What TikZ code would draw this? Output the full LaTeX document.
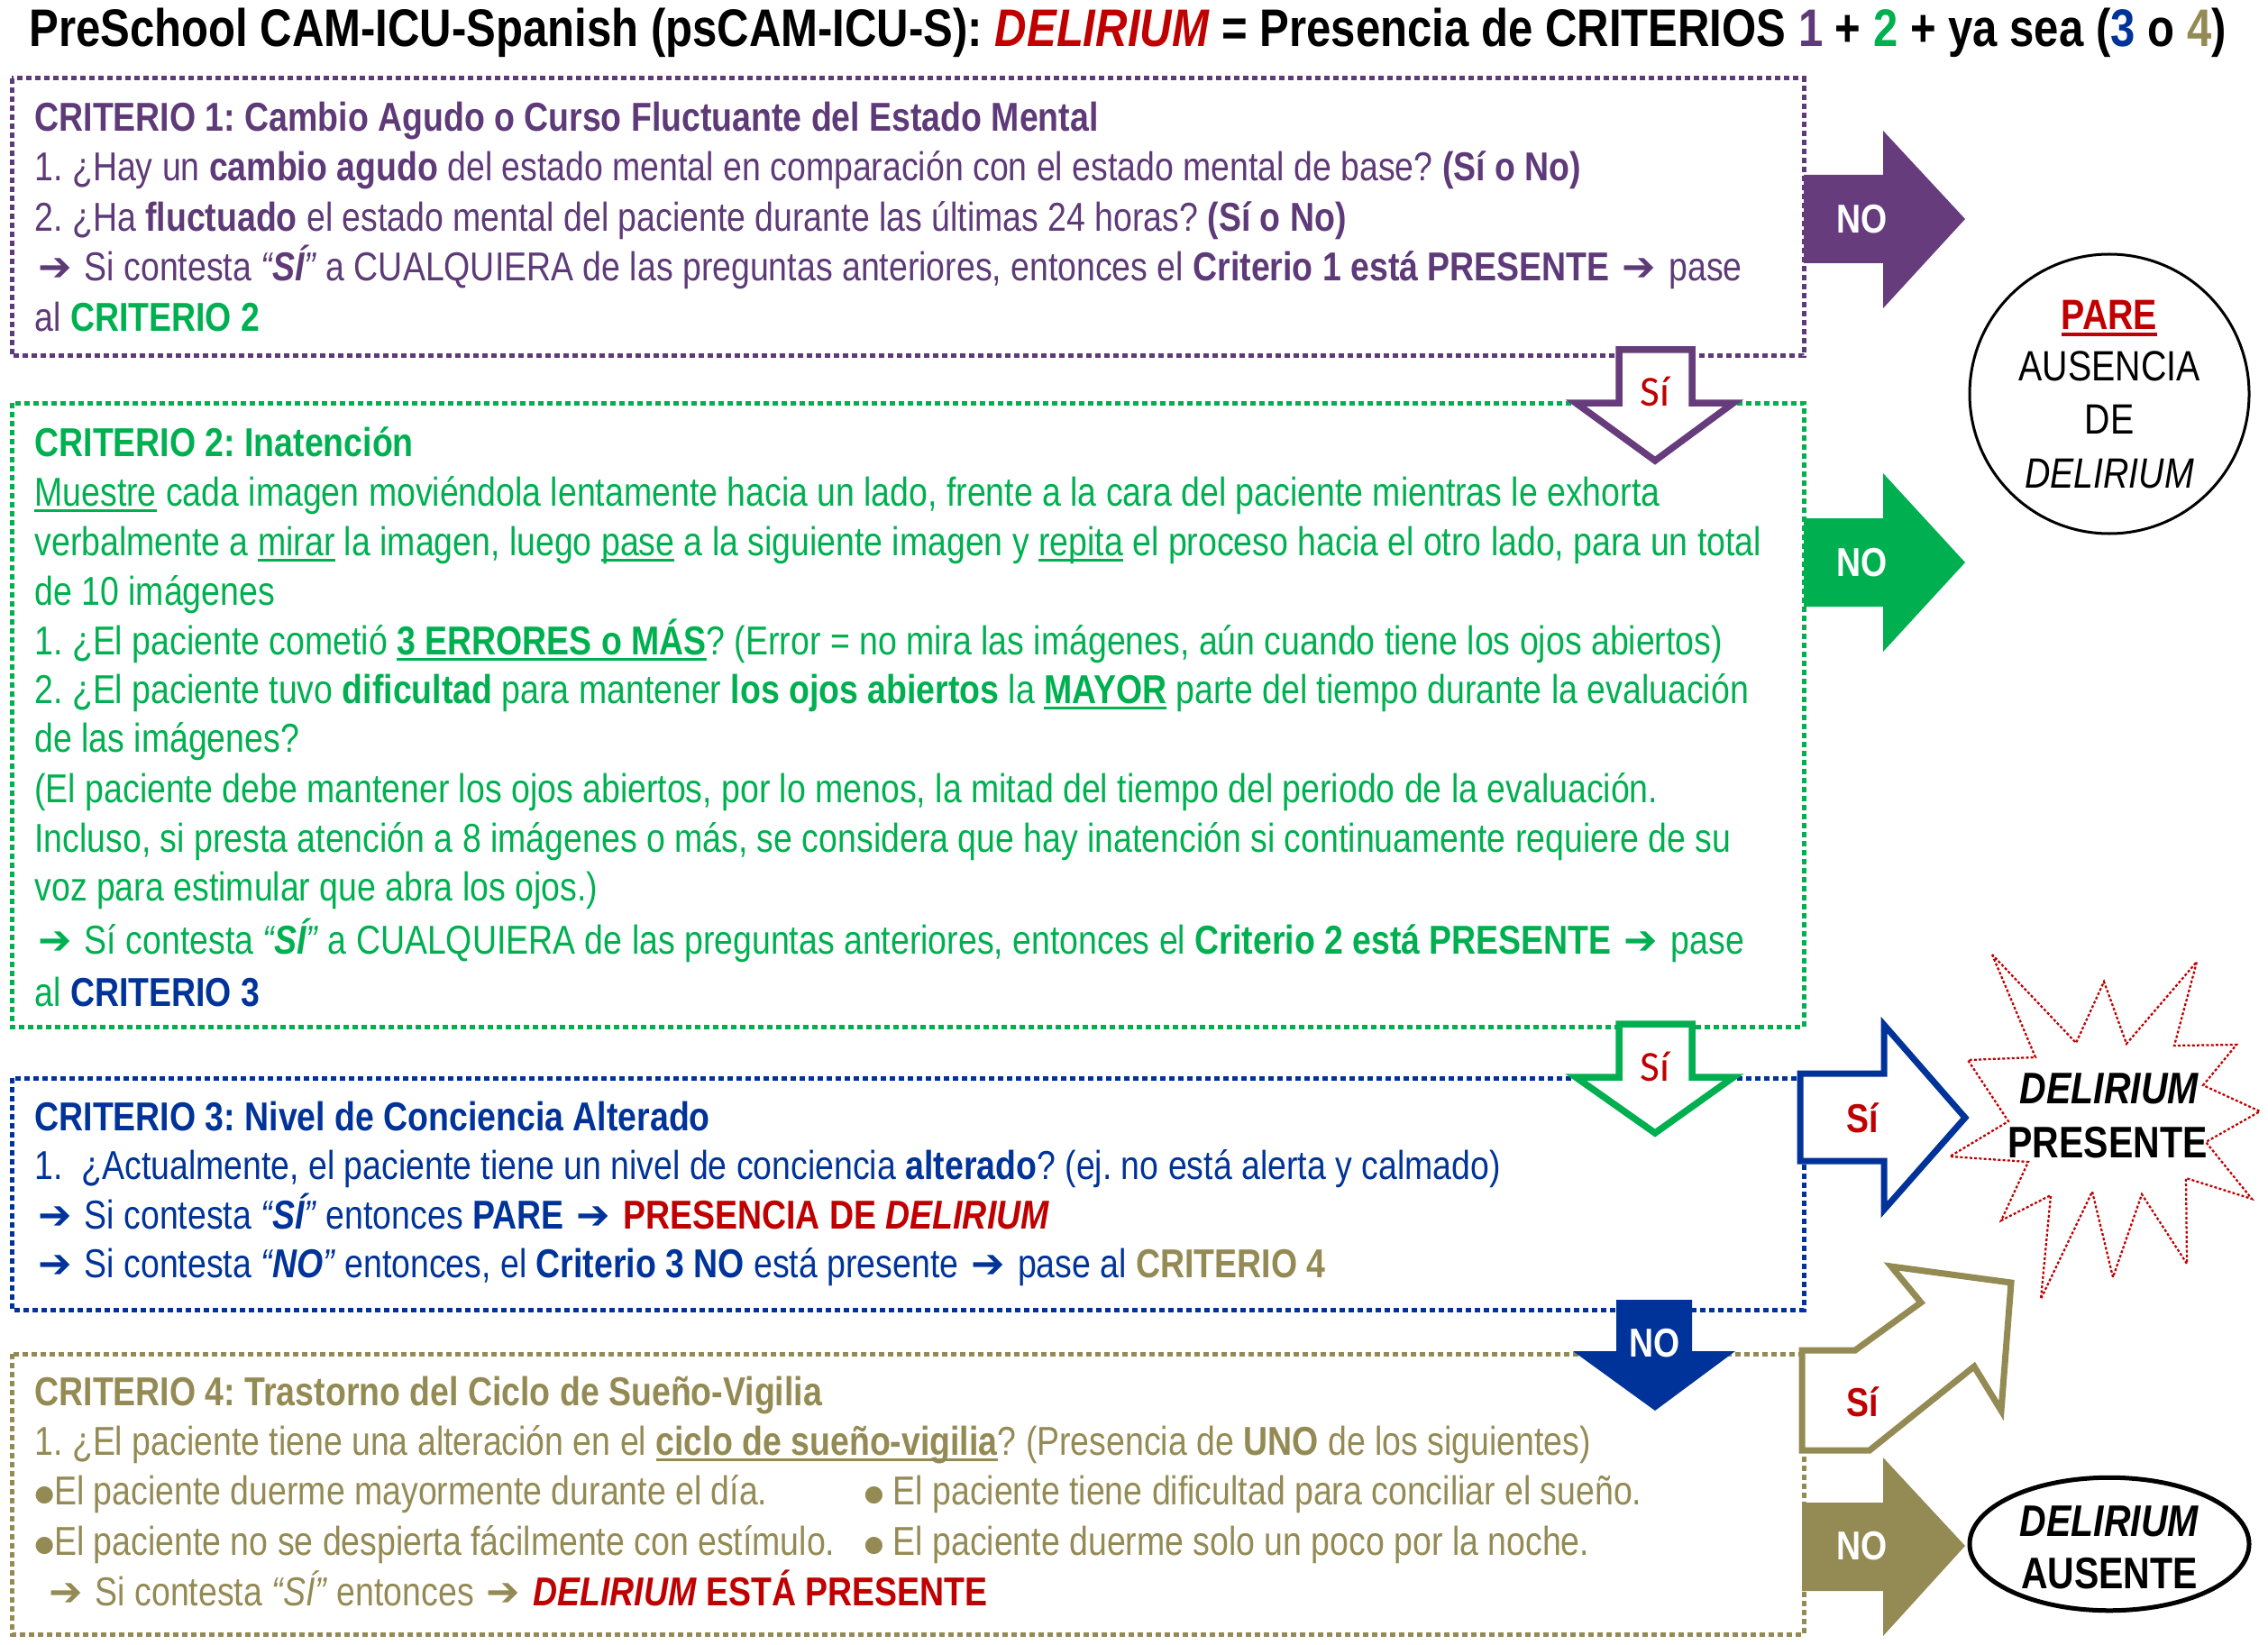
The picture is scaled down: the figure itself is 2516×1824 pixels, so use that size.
\documentclass[tikz,border=0pt]{standalone}
\usepackage{fontspec}
\setmainfont[FakeStretch=0.837]{Liberation Sans}
\newfontfamily\symfont{DejaVu Sans}
\newfontfamily\sifont{Carlito}
\usetikzlibrary{shapes.geometric}
\definecolor{colP}{HTML}{5E3A78}
\definecolor{colPA}{HTML}{663C7C}
\definecolor{colG}{HTML}{00B050}
\definecolor{colB}{HTML}{003399}
\definecolor{colO}{HTML}{948A54}
\definecolor{colR}{HTML}{C00000}
\newcommand\bodyf{\fontsize{17.9pt}{21pt}\selectfont}
\newcommand\titlef{\fontsize{23.45pt}{28pt}\selectfont}
\newcommand\bigf{\fontsize{19.6pt}{24pt}\selectfont}
\newcommand\circf{\fontsize{18.8pt}{22pt}\selectfont}
\newcommand\arr{\hspace{1.4pt}{\symfont\symbol{"2794}}\hspace{1.6pt}}
\newcommand\bul{\raisebox{1.6pt}{\symfont\fontsize{10pt}{10pt}\selectfont\symbol{"25CF}}}
\newcommand\myul[1]{\leavevmode\setbox0\hbox{#1}\rlap{\rule[-2.8pt]{\wd0}{1.4pt}}\box0\relax}
\newcommand\tline[3]{\node[txt] (#1) at (38,#2) {#3};}
\frenchspacing
\begin{document}
\begin{tikzpicture}[x=0.4pt,y=-0.4pt,
  boxl/.style={line width=2pt, dash pattern=on 2.4pt off 1.6pt},
  txt/.style={anchor=base west, inner sep=0pt, font=\bodyf\frenchspacing},
  ctr/.style={anchor=base, inner sep=0pt},
  notxt/.style={text=white, font=\bodyf\bfseries, inner sep=0pt},
  sitxt/.style={text=colR, font=\sifont\fontsize{19pt}{22pt}\selectfont, inner sep=0pt},
  sibold/.style={text=colR, font=\bodyf\bfseries, inner sep=0pt}]
\useasboundingbox (0,0) rectangle (2516,1824);

% title
\node[anchor=base west, inner sep=0pt, font=\titlef\bfseries\frenchspacing] (title) at (32,52)
 {PreSchool CAM-ICU-Spanish (psCAM-ICU-S): \textcolor{colR}{\textit{DELIRIUM}} = Presencia de CRITERIOS \textcolor{colP}{1} + \textcolor{colG}{2} + ya sea (\textcolor{colB}{3} o \textcolor{colO}{4})};

% boxes
\draw[boxl, colP] (13,87) rectangle (2001,395);
\draw[boxl, colG] (13,447) rectangle (2001,1139);
\draw[boxl, colB] (13,1196) rectangle (2001,1453);
\draw[boxl, colO] (13,1502) rectangle (2001,1813);

% criterio 1
\begin{scope}[every node/.append style={text=colP}]
\tline{c1h}{146}{\textbf{CRITERIO 1: Cambio Agudo o Curso Fluctuante del Estado Mental}}
\tline{c1a}{201}{1. ¿Hay un \textbf{cambio agudo} del estado mental en comparación con el estado mental de base? \textbf{(Sí o No)}}
\tline{c1b}{257}{2. ¿Ha \textbf{fluctuado} el estado mental del paciente durante las últimas 24 horas? \textbf{(Sí o No)}}
\tline{c1c}{312}{\arr\ Si contesta \textit{“\textbf{SÍ}”} a CUALQUIERA de las preguntas anteriores, entonces el \textbf{Criterio 1 está PRESENTE \arr} pase}
\tline{c1d}{368}{al \textcolor{colG}{\textbf{CRITERIO 2}}}
\end{scope}

% criterio 2
\begin{scope}[every node/.append style={text=colG}]
\tline{c2h}{506}{\textbf{CRITERIO 2: Inatención}}
\tline{c2a}{561}{\myul{Muestre} cada imagen moviéndola lentamente hacia un lado, frente a la cara del paciente mientras le exhorta}
\tline{c2b}{616}{verbalmente a \myul{mirar} la imagen, luego \myul{pase} a la siguiente imagen y \myul{repita} el proceso hacia el otro lado, para un total}
\tline{c2c}{671}{de 10 imágenes}
\tline{c2d}{726}{1. ¿El paciente cometió \myul{\textbf{3 ERRORES o MÁS}}? (Error = no mira las imágenes, aún cuando tiene los ojos abiertos)}
\tline{c2e}{780}{2. ¿El paciente tuvo \textbf{dificultad} para mantener \textbf{los ojos abiertos} la \myul{\textbf{MAYOR}} parte del tiempo durante la evaluación}
\tline{c2f}{834}{de las imágenes?}
\tline{c2g}{890}{(El paciente debe mantener los ojos abiertos, por lo menos, la mitad del tiempo del periodo de la evaluación.}
\tline{c2i}{945}{Incluso, si presta atención a 8 imágenes o más, se considera que hay inatención si continuamente requiere de su}
\tline{c2j}{999}{voz para estimular que abra los ojos.)}
\tline{c2k}{1058}{\arr\ Sí contesta \textit{“\textbf{SÍ}”} a CUALQUIERA de las preguntas anteriores, entonces el \textbf{Criterio 2 está PRESENTE \arr} pase}
\tline{c2l}{1116}{al \textcolor{colB}{\textbf{CRITERIO 3}}}
\end{scope}

% criterio 3
\begin{scope}[every node/.append style={text=colB}]
\tline{c3h}{1254}{\textbf{CRITERIO 3: Nivel de Conciencia Alterado}}
\tline{c3a}{1308}{1. \ ¿Actualmente, el paciente tiene un nivel de conciencia \textbf{alterado}? (ej. no está alerta y calmado)}
\tline{c3b}{1363}{\arr\ Si contesta \textit{“\textbf{SÍ}”} entonces \textbf{PARE \arr} \textcolor{colR}{\textbf{PRESENCIA DE \textit{DELIRIUM}}}}
\tline{c3c}{1417}{\arr\ Si contesta \textit{“\textbf{NO}”} entonces, el \textbf{Criterio 3 NO} está presente \arr\ pase al \textcolor{colO}{\textbf{CRITERIO 4}}}
\end{scope}

% criterio 4
\begin{scope}[every node/.append style={text=colO}]
\tline{c4h}{1559}{\textbf{CRITERIO 4: Trastorno del Ciclo de Sueño-Vigilia}}
\tline{c4a}{1614}{1. ¿El paciente tiene una alteración en el \myul{\textbf{ciclo de sueño-vigilia}}? (Presencia de \textbf{UNO} de los siguientes)}
\tline{c4b}{1669}{\bul El paciente duerme mayormente durante el día.}
\node[txt] (c4c) at (958,1669) {\bul\ El paciente tiene dificultad para conciliar el sueño.};
\tline{c4d}{1725}{\bul El paciente no se despierta fácilmente con estímulo.}
\node[txt] (c4e) at (958,1725) {\bul\ El paciente duerme solo un poco por la noche.};
\node[txt] (c4f) at (50,1781) {\arr\ Si contesta \textit{“SÍ”} entonces \arr\ \textcolor{colR}{\textbf{\textit{DELIRIUM} ESTÁ PRESENTE}}};
\end{scope}

% purple NO arrow
\fill[colPA] (2001,194) -- (2089,194) -- (2089,145) -- (2180,243) -- (2089,342) -- (2089,292) -- (2001,292) -- cycle;
\node[notxt] (no1) at (2066,243) {NO};
% green NO arrow
\fill[colG] (2001,575) -- (2089,575) -- (2089,525) -- (2180,624) -- (2089,723) -- (2089,673) -- (2001,673) -- cycle;
\node[notxt] (no2) at (2066,624) {NO};

% PARE circle
\node[circle, draw, line width=1.2pt, minimum size=124pt, inner sep=0pt] (pare) at (2340,437) {};
\node[ctr, font=\circf\bfseries, text=colR] (pare1) at (2340,366) {\myul{PARE}};
\node[ctr, font=\circf] (pare2) at (2340,423) {AUSENCIA};
\node[ctr, font=\circf] (pare3) at (2340,481) {DE};
\node[ctr, font=\circf\itshape] (pare4) at (2340,541) {DELIRIUM};

% down arrows
\filldraw[fill=white, draw=colPA, line width=3pt, line join=miter] (1796,388) -- (1877,388) -- (1877,447) -- (1923,447) -- (1836,511) -- (1748,447) -- (1796,447) -- cycle;
\node[sitxt] (si1) at (1836,434) {Sí};
\filldraw[fill=white, draw=colG, line width=3pt, line join=miter] (1796,1136) -- (1877,1136) -- (1877,1195) -- (1923,1195) -- (1836,1257) -- (1748,1195) -- (1796,1195) -- cycle;
\node[sitxt] (si2) at (1836,1183) {Sí};

% blue Si right arrow
\filldraw[fill=white, draw=colB, line width=2.8pt, line join=miter] (1997,1191) -- (2090,1191) -- (2090,1137) -- (2180,1240) -- (2090,1342) -- (2090,1288) -- (1997,1288) -- cycle;
\node[sibold] (si3) at (2066,1240) {Sí};

% blue NO down arrow
\fill[colB] (1793,1442) -- (1877,1442) -- (1877,1499) -- (1925,1499) -- (1836,1565) -- (1745,1499) -- (1793,1499) -- cycle;
\node[notxt] (no3) at (1836,1490) {NO};

% starburst
\draw[colR, line width=0.9pt, dash pattern=on 1.2pt off 0.9pt, fill=white]
 (2210,1059) -- (2258,1173) -- (2183,1176) -- (2228,1244) -- (2163,1283) -- (2250,1289)
 -- (2220,1354) -- (2275,1326) -- (2264,1441) -- (2321,1322) -- (2344,1417) -- (2376,1325)
 -- (2426,1402) -- (2425,1307) -- (2498,1330) -- (2447,1267) -- (2507,1233) -- (2444,1204)
 -- (2481,1159) -- (2412,1160) -- (2437,1067) -- (2359,1158) -- (2334,1089) -- (2303,1157) -- cycle;
\node[ctr, font=\bigf\bfseries\itshape] (dp1) at (2340,1224) {DELIRIUM};
\node[ctr, font=\bigf\bfseries] (dp2) at (2338,1284) {PRESENTE};

% olive bent Si arrow
\filldraw[fill=white, draw=colO, line width=2.8pt, line join=miter] (1999,1498) -- (2058,1498) -- (2131,1445) -- (2098,1405) -- (2231,1423) -- (2220,1565) -- (2190,1516) -- (2074,1609) -- (1999,1609) -- cycle;
\node[sibold] (si4) at (2066,1555) {Sí};

% olive NO arrow
\fill[colO] (1999,1667) -- (2089,1667) -- (2089,1617) -- (2180,1715) -- (2089,1815) -- (2089,1765) -- (1999,1765) -- cycle;
\node[notxt] (no4) at (2066,1715) {NO};

% DELIRIUM AUSENTE
\node[ellipse, draw, line width=2pt, minimum width=124pt, minimum height=59pt, inner sep=0pt] (aus) at (2340,1713) {};
\node[ctr, font=\bigf\bfseries\itshape] (aus1) at (2340,1704) {DELIRIUM};
\node[ctr, font=\bigf\bfseries] (aus2) at (2340,1762) {AUSENTE};
\end{tikzpicture}
\end{document}
